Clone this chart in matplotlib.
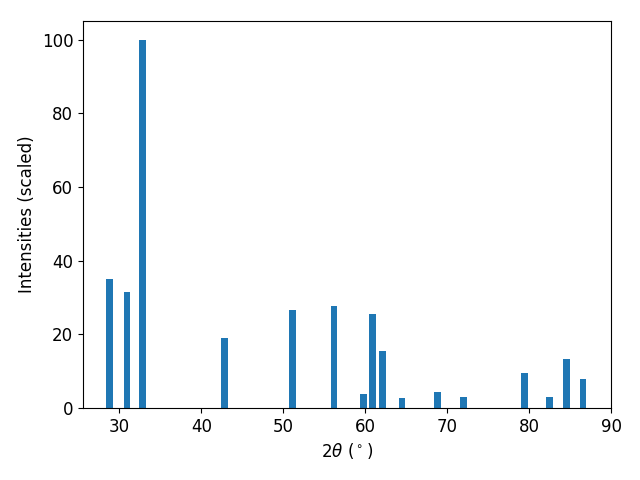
import matplotlib
matplotlib.use('Agg')
from matplotlib import pyplot as plt

two_theta = [28.8, 30.9, 32.8, 42.8, 51.15, 56.2, 59.8, 60.9, 62.1, 64.5,
             68.8, 72.0, 79.45, 82.5, 84.6, 86.6]
intens = [35.1, 31.6, 100.0, 19.1, 26.5, 27.8, 3.9, 25.6, 15.6, 2.8,
          4.4, 3.1, 9.6, 3.1, 13.4, 7.9]

fig, ax = plt.subplots(figsize=(6.4, 4.8))
fig.subplots_adjust(left=0.1297, right=0.9547, top=0.956, bottom=0.15)
ax.bar(two_theta, intens, width=0.8, color='#1f77b4')
ax.set_xlim(25.55, 90.0)
ax.set_xlabel(r'2$\theta$ ($^\circ$)', fontsize=12)
ax.set_ylabel('Intensities (scaled)', fontsize=12)
ax.tick_params(labelsize=12)
fig.savefig('out.png', dpi=100)
